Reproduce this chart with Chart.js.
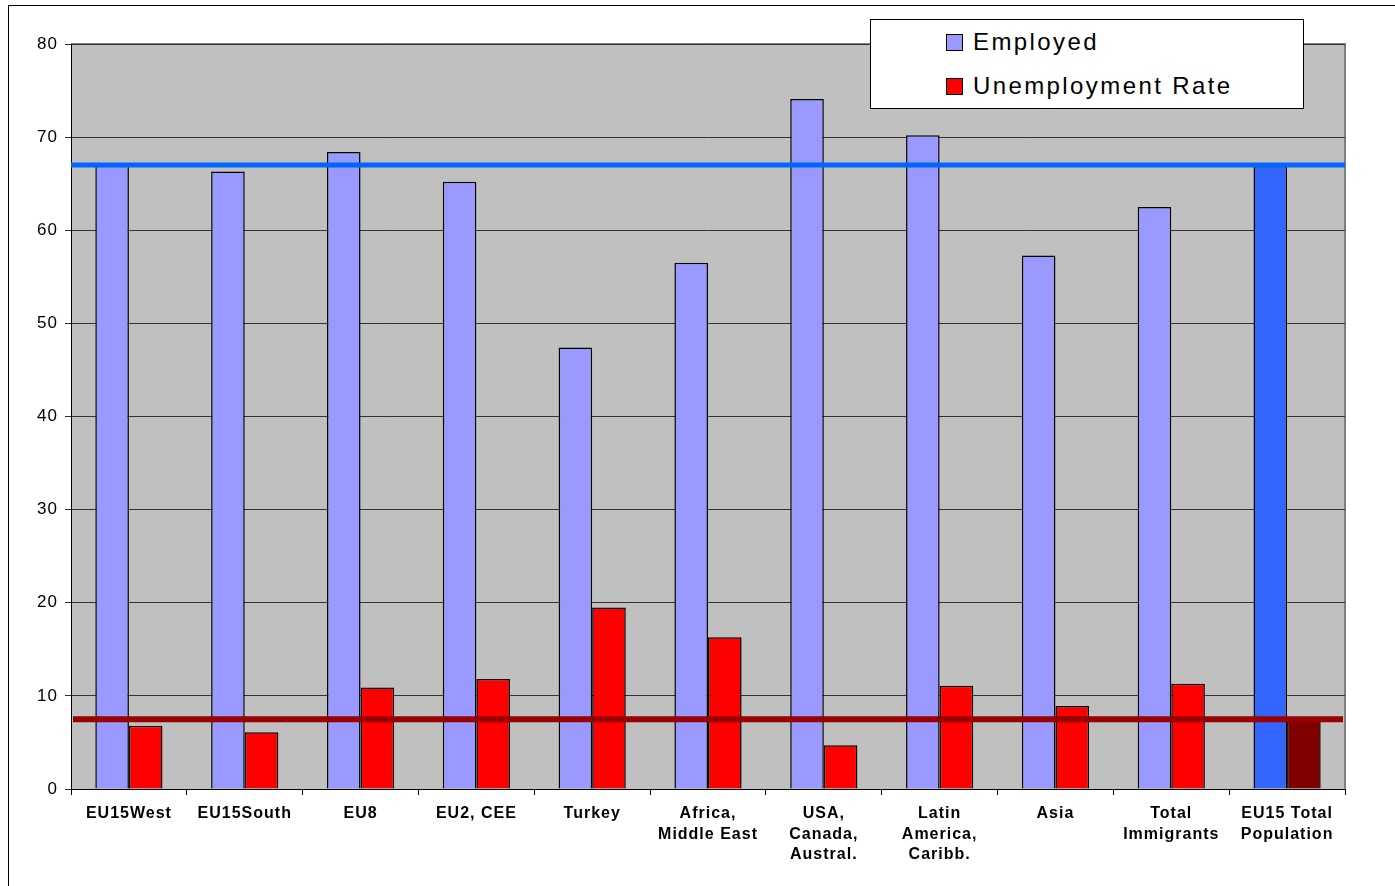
<!DOCTYPE html>
<html>
<head>
<meta charset="utf-8">
<script src="https://cdn.jsdelivr.net/npm/chart.js@4"></script>
<style>
  body { margin: 0; background: #fff; font-family: Arial, "Liberation Sans", sans-serif; }
  #wrap { position: relative; width: 1395px; height: 886px; overflow: hidden; }
  #frame { position: absolute; left: 8px; top: 5px; width: 1500px; height: 1000px; border: 1px solid #000; }
  #legend { position: absolute; left: 870px; top: 19px; width: 432px; height: 88px; border: 1px solid #000; background: #fff; }
  .item { position: absolute; left: 75px; font-size: 24px; letter-spacing: 2.4px; color: #000; white-space: nowrap; line-height: 28px; }
  .sw { display: inline-block; width: 15px; height: 15px; border: 1px solid #000; margin-right: 10px; vertical-align: -1px; }
</style>
</head>
<body>
<div id="wrap">
  <div id="frame"></div>
  <canvas id="chart" width="1395" height="886" style="position:absolute;left:0;top:0"></canvas>
  <div id="legend">
    <div class="item" style="top:8px"><span class="sw" style="background:#9999FF"></span>Employed</div>
    <div class="item" style="top:52px"><span class="sw" style="background:#FF0000"></span>Unemployment Rate</div>
  </div>
</div>
<script>
// Data
const categories = [
    ['EU15West'], ['EU15South'], ['EU8'], ['EU2, CEE'], ['Turkey'],
    ['Africa,', 'Middle East'], ['USA,', 'Canada,', 'Austral.'],
    ['Latin', 'America,', 'Caribb.'], ['Asia'], ['Total', 'Immigrants'],
    ['EU15 Total', 'Population']
];
const employed = [67.0, 66.3, 68.4, 65.2, 47.4, 56.5, 74.1, 70.2, 57.3, 62.5, 66.9];
const unemploymentRate = [6.8, 6.1, 10.9, 11.8, 19.5, 16.3, 4.7, 11.1, 8.9, 11.3, 7.4];
const yTicks = [0, 10, 20, 30, 40, 50, 60, 70, 80];
// reference lines (EU15 total population)
const refEmployed = 67.0;
const refUnemployment = 7.5;

// last bar (total population) gets its own colours
const employedColors = employed.map((v, i) => i === employed.length - 1 ? '#3366FF' : '#9999FF');
const unempColors = unemploymentRate.map((v, i) => i === unemploymentRate.length - 1 ? '#800000' : '#FF0000');

// Grey plot background and border, plus wider letter spacing for axis text
const plotBackground = {
    id: 'plotBackground',
    beforeDraw(chart) {
        const { ctx, chartArea: a } = chart;
        ctx.letterSpacing = '1px';
        ctx.save();
        ctx.fillStyle = '#C0C0C0';
        ctx.fillRect(a.left, a.top, a.right - a.left, a.bottom - a.top);
        ctx.strokeStyle = '#808080';
        ctx.lineWidth = 2;
        ctx.beginPath();
        ctx.moveTo(a.left, a.top);
        ctx.lineTo(a.right, a.top);
        ctx.lineTo(a.right, a.bottom);
        ctx.stroke();
        ctx.restore();
    }
};

// Horizontal lines for the total population values
const refLines = {
    id: 'refLines',
    afterDatasetsDraw(chart) {
        const { ctx, chartArea: a, scales } = chart;
        const yE = scales.y.getPixelForValue(refEmployed);
        const yU = scales.y.getPixelForValue(refUnemployment);
        ctx.save();
        ctx.lineWidth = 5;
        ctx.strokeStyle = '#0066FF';
        ctx.beginPath();
        ctx.moveTo(a.left, yE);
        ctx.lineTo(a.right, yE);
        ctx.stroke();
        ctx.lineWidth = 6;
        ctx.strokeStyle = '#990000';
        ctx.beginPath();
        ctx.moveTo(a.left + 2, yU);
        ctx.lineTo(a.right - 2, yU);
        ctx.stroke();
        ctx.restore();
    }
};

const ctx = document.getElementById('chart').getContext('2d');
new Chart(ctx, {
    type: 'bar',
    data: {
        labels: categories,
        datasets: [
            {
                label: 'Employed',
                data: employed,
                backgroundColor: employedColors,
                borderColor: '#000',
                borderWidth: 1.5,
                borderSkipped: 'bottom'
            },
            {
                label: 'Unemployment Rate',
                data: unemploymentRate,
                backgroundColor: unempColors,
                borderColor: '#000',
                borderWidth: 1.5,
                borderSkipped: 'bottom'
            }
        ]
    },
    options: {
        responsive: false,
        animation: false,
        events: [],
        layout: { padding: { left: 0, right: 50, top: 44, bottom: 0 } },
        datasets: { bar: { categoryPercentage: 0.58, barPercentage: 1.0 } },
        scales: {
            x: {
                afterFit(scale) { scale.height = 97; },
                grid: { offset: true, drawOnChartArea: false, drawTicks: true, tickLength: 6, color: '#000' },
                border: { color: '#000', width: 1 },
                ticks: {
                    color: '#000',
                    maxRotation: 0,
                    autoSkip: false,
                    padding: 8,
                    font: { family: 'Arial, "Liberation Sans"', size: 16, weight: 'bold', lineHeight: 1.3 }
                }
            },
            y: {
                min: 0,
                max: 80,
                afterFit(scale) { scale.width = 71; },
                afterBuildTicks(scale) { scale.ticks = yTicks.map(v => ({ value: v })); },
                grid: { color: '#333', lineWidth: 1, drawTicks: true, tickLength: 6 },
                border: { color: '#000', width: 1 },
                ticks: {
                    color: '#000',
                    padding: 7,
                    font: { family: 'Arial, "Liberation Sans"', size: 17 }
                }
            }
        },
        plugins: {
            legend: { display: false },
            tooltip: { enabled: false }
        }
    },
    plugins: [plotBackground, refLines]
});
</script>
</body>
</html>
